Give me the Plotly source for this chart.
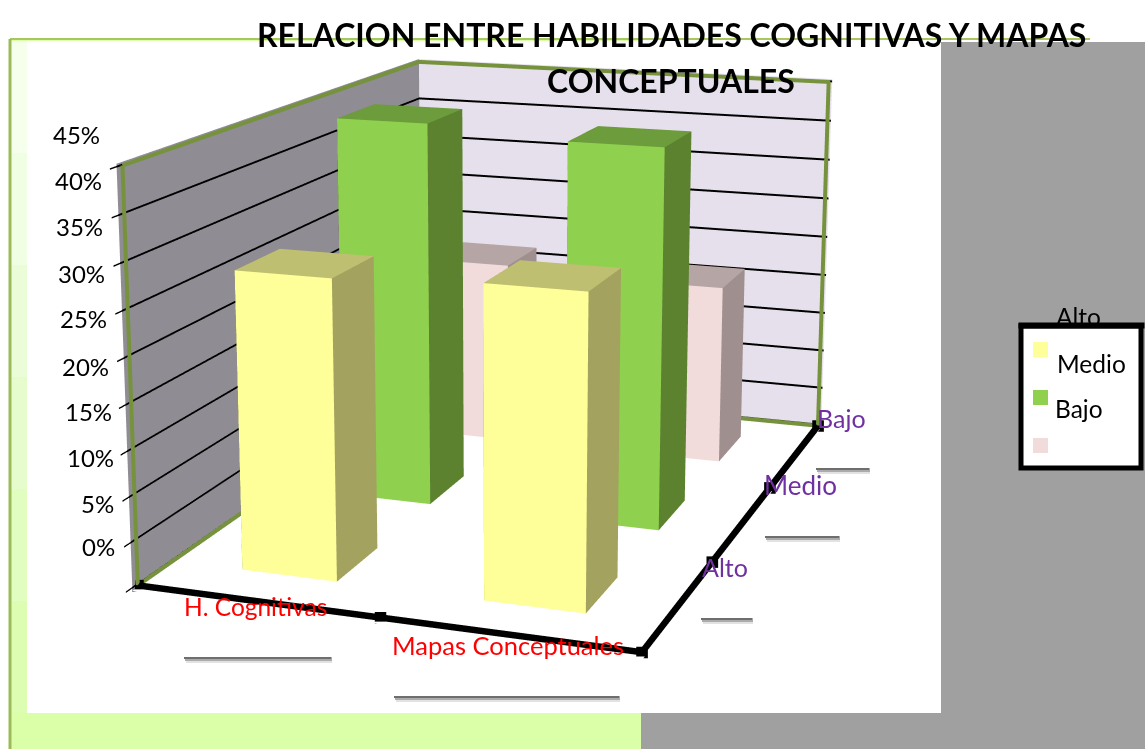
"""3D column chart: relation between cognitive skills and concept maps."""

import plotly.graph_objects as go

groups = ["H. Cognitivas", "Mapas Conceptuales"]
levels = ["Alto", "Medio", "Bajo"]
alto = [0.33, 0.338]
medio = [0.449, 0.438]
bajo = [0.227, 0.22]
y_ticks = [0, 0.05, 0.10, 0.15, 0.20, 0.25, 0.30, 0.35, 0.40, 0.45]
y_tick_labels = ["0%", "5%", "10%", "15%", "20%", "25%", "30%", "35%", "40%", "45%"]

# front, top and side colour of each series
alto_faces = ["#FFFF99", "#BFBF72", "#A3A35F"]
medio_faces = ["#8FD14F", "#6C9C3B", "#5C8230"]
bajo_faces = ["#F2DCDB", "#B5A5A4", "#9F8F8E"]

WIN_W, WIN_H = 1145, 749
# the original has an off-centre perspective, so the figure is taller than the window
# and the top part of it is pushed out of the page
PAGE_SHIFT, FIG_H = 701, 1941
X_RANGE = [-0.5, 1.5]
Y_RANGE = [-0.5, 2.5]
Z_TOP = y_ticks[-1]
BAR_X, BAR_Y = 0.2, 0.205

# scene units per data unit, and the camera for the unpadded box
UNITS = [1.229 / 2, 1.818 / 3, 1 / Z_TOP]
EYE = [1.927, -5.517, 1.444]
CENTER = [-0.188, 0.451, 0]
# thick lines on the edge of the box get clipped, so the axes reach a little past it
x_axis = [X_RANGE[0] - 0.008, X_RANGE[1] + 0.012]
y_axis = [Y_RANGE[0] - 0.03, Y_RANGE[1] + 0.02]
z_axis = [-0.0035, Z_TOP + 0.003]


def px(x):
    return x / WIN_W


def py(y):
    return 1 - (y + PAGE_SHIFT) / FIG_H


def rect(x0, y0, x1, y1, fill, layer="below", line=None):
    return dict(type="rect", xref="paper", yref="paper", x0=px(x0), x1=px(x1), y0=py(y1), y1=py(y0),
                fillcolor=fill, line=line or dict(width=0), layer=layer)


def label(x, y, text, color="#000000", size=24, bold=False):
    return dict(text=f"<b>{text}</b>" if bold else text, x=px(x), y=py(y), xref="paper", yref="paper",
                xanchor="center", yanchor="middle", showarrow=False,
                font=dict(family="Lato", size=size, color=color))


def column(ix, iy, value, faces):
    front, top, side = faces
    x0, x1 = ix - BAR_X, ix + BAR_X
    y0, y1 = iy - BAR_Y, iy + BAR_Y
    return go.Mesh3d(
        x=[x0, x1, x1, x0, x0, x1, x1, x0],
        y=[y0, y0, y1, y1, y0, y0, y1, y1],
        z=[0, 0, 0, 0, value, value, value, value],
        i=[0, 0, 4, 4, 0, 0, 1, 1, 2, 2, 3, 3],
        j=[1, 2, 5, 6, 1, 5, 2, 6, 3, 7, 0, 4],
        k=[2, 3, 6, 7, 5, 4, 6, 5, 7, 6, 4, 7],
        facecolor=[top, top, top, top, front, front, side, side, side, side, side, side],
        flatshading=True,
        lighting=dict(ambient=1.0, diffuse=0.0, specular=0.0, fresnel=0.0, roughness=1.0),
        hoverinfo="skip",
        showscale=False,
    )


fig = go.Figure()
for row, (values, faces) in enumerate([(alto, alto_faces), (medio, medio_faces), (bajo, bajo_faces)]):
    for ix, value in enumerate(values):
        fig.add_trace(column(ix, row, value, faces))

# green outline of the two walls
x_lo, x_hi = X_RANGE
y_lo, y_hi = Y_RANGE
fig.add_trace(go.Scatter3d(
    x=[x_lo, x_lo, x_hi, x_hi, x_lo, x_lo],
    y=[y_lo, y_hi, y_hi, y_hi, y_hi, y_lo],
    z=[Z_TOP, Z_TOP, Z_TOP, 0, 0, 0],
    mode="lines", line=dict(color="#76923C", width=8), hoverinfo="skip",
))
fig.add_trace(go.Scatter3d(
    x=[x_lo, x_lo], y=[y_lo, y_lo], z=[0, Z_TOP],
    mode="lines", line=dict(color="#76923C", width=8), hoverinfo="skip",
))
# thick black axes with square tick marks
fig.add_trace(go.Scatter3d(
    x=[x_lo, 0.5, x_hi, x_hi, x_hi, x_hi],
    y=[y_lo, y_lo, y_lo, 0.5, 1.5, y_hi],
    z=[0, 0, 0, 0, 0, 0],
    mode="lines+markers",
    line=dict(color="#000000", width=13),
    marker=dict(symbol="square", size=6, color="#000000"),
    hoverinfo="skip",
))

shapes = [
    rect(10, 39, 641, 749, "#DBFFA9"),
    rect(641, 42, 1145, 749, "#A0A0A0"),
]
# pale strip on the left of the plot area, fading into the frame colour
strip_colors = ["#F5FFEC", "#F0FEE3", "#EBFDD8", "#E7FCCD", "#E2FDC0", "#DDFEB2"]
for n, color in enumerate(strip_colors):
    shapes.append(rect(11, 41 + n * 112, 27, 41 + (n + 1) * 112, color))
shapes += [
    rect(27, 41, 941, 713, "#FFFFFF"),
    dict(type="line", xref="paper", yref="paper", x0=px(10), x1=px(1090), y0=py(39), y1=py(39),
         line=dict(color="#A9C761", width=2), layer="below"),
    dict(type="line", xref="paper", yref="paper", x0=px(10), x1=px(10), y0=py(39), y1=py(749),
         line=dict(color="#9BBB59", width=3), layer="below"),
]
# white caption boxes under the axis labels, each with a soft shadow below
for x0, y0, x1, y1 in [(184, 627, 331, 657), (394, 667, 619, 696), (701, 587, 752, 618),
                       (765, 507, 839, 536), (816, 435, 869, 468)]:
    shapes.append(rect(x0 + 2, y1, x1 + 1, y1 + 6, "#E2E2E2", layer="above"))
    shapes.append(rect(x0 + 1, y1, x1 + 1, y1 + 4, "#ABABAB", layer="above"))
    shapes.append(rect(x0, y1, x1, y1 + 2, "#6E6E6E", layer="above"))
    shapes.append(rect(x0, y0, x1, y1, "#FFFFFF", layer="above"))
# legend box and its colour keys
shapes.append(rect(1021, 326, 1141, 468, "#FFFFFF", layer="above",
                   line=dict(color="#000000", width=5)))
for key_y, faces in zip([342, 390, 438], [alto_faces, medio_faces, bajo_faces]):
    shapes.append(rect(1033, key_y, 1048, key_y + 15, faces[0], layer="above"))

annotations = [
    label(671, 34, "RELACION ENTRE HABILIDADES COGNITIVAS Y MAPAS", size=32, bold=True),
    label(671, 80, "CONCEPTUALES", size=32, bold=True),
    label(255, 606, groups[0], "#FF0000", size=24.5),
    label(508, 645, groups[1], "#FF0000", size=25.5),
    label(725, 567, levels[0], "#7030A0", size=25),
    label(800, 485, levels[1], "#7030A0", size=26),
    label(841, 418, levels[2], "#7030A0", size=25),
    label(1078, 316, levels[0], size=24.5),
    # top border of the legend runs over the bottom of its first label
    dict(text=" ", x=px(1081), y=py(325.5), xref="paper", yref="paper", xanchor="center", yanchor="middle",
         showarrow=False, width=125, height=5, borderpad=0, bgcolor="#000000", font=dict(size=2)),
    label(1091, 363, levels[1], size=24.5),
    label(1079, 408, levels[2], size=24.5),
]
tick_label_x = [98, 97, 90, 88, 85, 83, 81, 79, 78, 76]
tick_label_y = [546, 503, 457, 411, 366, 319, 273, 226, 180, 134]
for text, x, y in zip(y_tick_labels, tick_label_x, tick_label_y):
    annotations.append(label(x, y, text))

# camera moves with the centre of the padded box
shift = [
    ((a[0] + a[1]) - (r[0] + r[1])) / 2 * u
    for a, r, u in zip([x_axis, y_axis, z_axis], [X_RANGE, Y_RANGE, [0, Z_TOP]], UNITS)
]

fig.update_layout(
    width=WIN_W,
    height=FIG_H,
    margin=dict(l=0, r=0, t=0, b=0),
    paper_bgcolor="rgba(0,0,0,0)",
    showlegend=False,
    shapes=shapes,
    annotations=annotations,
    scene=dict(
        domain=dict(x=[0, 0.8784], y=[0, 1]),
        aspectmode="manual",
        aspectratio=dict(
            x=(x_axis[1] - x_axis[0]) * UNITS[0],
            y=(y_axis[1] - y_axis[0]) * UNITS[1],
            z=(z_axis[1] - z_axis[0]) * UNITS[2],
        ),
        camera=dict(
            eye=dict(x=EYE[0] - shift[0], y=EYE[1] - shift[1], z=EYE[2] - shift[2]),
            center=dict(x=CENTER[0] - shift[0], y=CENTER[1] - shift[1], z=CENTER[2] - shift[2]),
            up=dict(x=0.004, y=-0.013, z=1),
            projection=dict(type="perspective"),
        ),
        xaxis=dict(
            range=x_axis, tickvals=[], title="", showgrid=False, zeroline=False, showspikes=False,
            showbackground=True, backgroundcolor="#8F8C93",
        ),
        yaxis=dict(
            range=y_axis, tickvals=[], title="", showgrid=False, zeroline=False, showspikes=False,
            showbackground=True, backgroundcolor="#E6E0EC",
        ),
        zaxis=dict(
            range=z_axis, tickvals=y_ticks, ticktext=["" for _ in y_ticks], title="",
            showgrid=True, gridcolor="#000000", gridwidth=4, zeroline=False, showspikes=False,
            ticks="outside", ticklen=4, tickcolor="#000000", tickwidth=3,
            showbackground=True, backgroundcolor="#FFFFFF",
        ),
    ),
)

fig.write_html(
    "out.html",
    post_script=(
        f"document.body.style.margin='-{PAGE_SHIFT}px 0 0 0';"
        "document.body.style.overflow='hidden';"
        "document.documentElement.style.overflow='hidden';"
    ),
)
